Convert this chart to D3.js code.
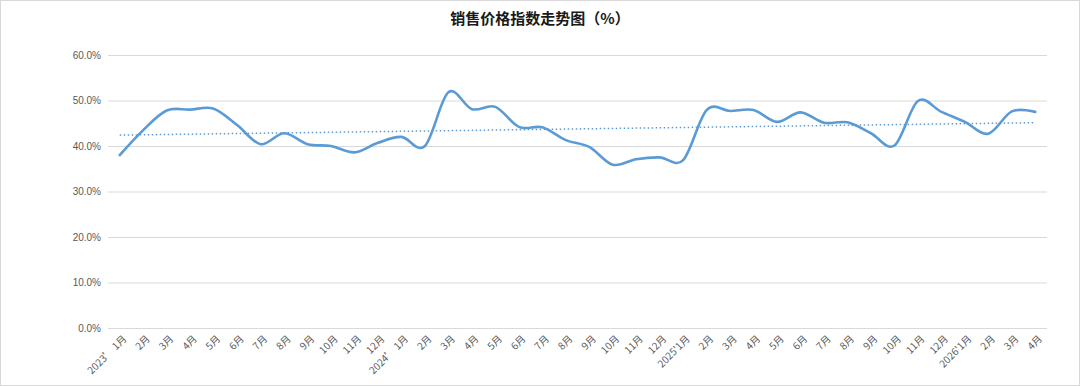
<!DOCTYPE html>
<html><head><meta charset="utf-8">
<script src="https://cdn.jsdelivr.net/npm/d3@7"></script>
<style>html,body{margin:0;padding:0;background:#fff;}</style>
</head><body>
<svg id="c" width="1080" height="386"></svg>
<script>
const categories = ["2023’ 1月","2月","3月","4月","5月","6月","7月","8月","9月","10月","11月","12月",
  "2024’ 1月","2月","3月","4月","5月","6月","7月","8月","9月","10月","11月","12月",
  "2025'1月","2月","3月","4月","5月","6月","7月","8月","9月","10月","11月","12月",
  "2026'1月","2月","3月","4月"];
const values = [38.0,43.5,47.8,48.0,48.2,44.6,40.4,42.8,40.4,40.0,38.6,40.7,
  42.0,40.0,51.8,48.1,48.6,44.2,44.1,41.3,39.8,35.9,37.1,37.5,
  36.9,47.9,47.7,47.9,45.3,47.4,45.1,45.2,42.8,40.1,49.9,47.5,
  45.3,42.7,47.6,47.5];
const yTicks = [0,10,20,30,40,50,60];
const title = "销售价格指数走势图（%）";

const svg = d3.select("#c");
const L = 108, R = 1047, T = 55, B = 328;
svg.append("rect").attr("x",0.5).attr("y",0.5).attr("width",1079).attr("height",385)
  .attr("fill","#fff").attr("stroke","#d9d9d9");

const x = d3.scaleBand().domain(d3.range(categories.length)).range([L,R]);
const y = d3.scaleLinear().domain([0,60]).range([B,T]);

svg.append("text").attr("x",540).attr("y",24).attr("text-anchor","middle")
  .attr("font-family","'Noto Sans CJK SC','Noto Sans',sans-serif").attr("font-weight",700)
  .attr("font-size",15).attr("fill","#1a1a1a").text(title);

const yAxis = d3.axisLeft(y).tickValues(yTicks).tickSize(-(R-L)).tickFormat(d=>d.toFixed(1)+"%");
const gy = svg.append("g").attr("transform",`translate(${L},0)`).call(yAxis);
gy.select(".domain").remove();
gy.selectAll(".tick line").attr("stroke","#d9d9d9");
gy.selectAll(".tick text").attr("x",-7).attr("font-family","'Liberation Sans',Arial,sans-serif")
  .attr("font-size",10).attr("fill","#595959");

const xAxis = d3.axisBottom(x).tickSize(0).tickFormat(i=>categories[i]);
const gx = svg.append("g").attr("transform",`translate(0,${B})`).call(xAxis);
gx.select(".domain").remove();
gx.selectAll(".tick text").attr("text-anchor","end")
  .attr("font-family","'Noto Sans CJK SC','Liberation Sans',sans-serif")
  .attr("font-size",10).attr("fill","#595959")
  .attr("transform","translate(5,9) rotate(-45)").attr("dy","0.35em").attr("y",0);

const cx = i => x(i) + x.bandwidth()/2;
const line = d3.line().x((d,i)=>cx(i)).y(d=>y(d)).curve(d3.curveCardinal.tension(0));
svg.append("path").datum(values).attr("d",line).attr("fill","none")
  .attr("stroke","#5B9BD5").attr("stroke-width",2.6).attr("stroke-linejoin","round").attr("stroke-linecap","round");

// linear trendline (least squares)
const n = values.length, xs = d3.range(n);
const mx = d3.mean(xs), my = d3.mean(values);
const slope = d3.sum(xs, i => (i-mx)*(values[i]-my)) / d3.sum(xs, i => (i-mx)*(i-mx));
const icpt = my - slope*mx;
svg.append("line").attr("x1",cx(0)).attr("x2",cx(n-1))
  .attr("y1",y(icpt)).attr("y2",y(icpt+slope*(n-1)))
  .attr("stroke","#5B9BD5").attr("stroke-width",1.5).attr("stroke-dasharray","1.5,2.5");
</script>
</body></html>
